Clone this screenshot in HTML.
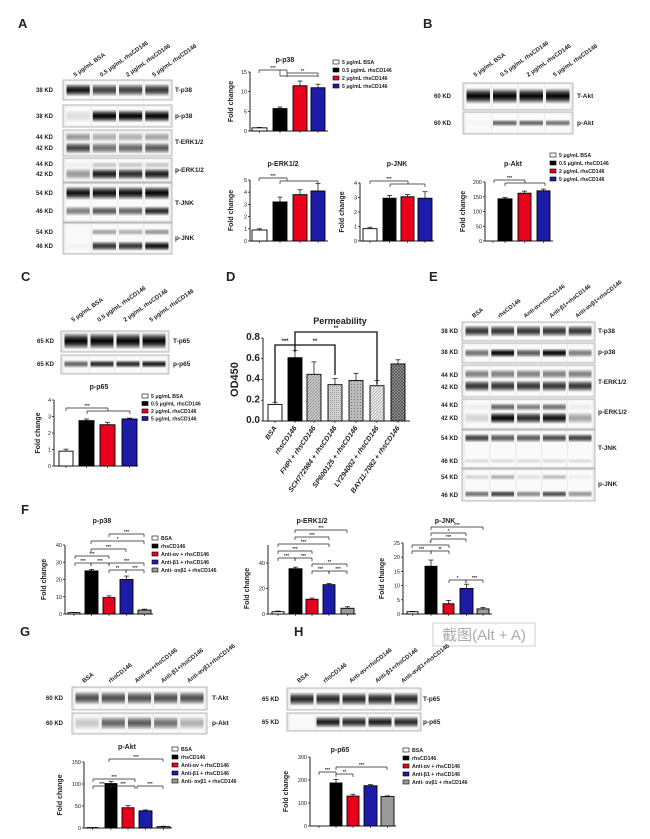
<!DOCTYPE html>
<html><head><meta charset="utf-8"><style>
html,body{margin:0;padding:0;background:#fff;width:650px;height:839px;overflow:hidden}
svg{display:block;font-family:"Liberation Sans","Noto Sans CJK SC",sans-serif}
</style></head><body>
<svg id="s" width="650" height="839" viewBox="0 0 650 839" xmlns="http://www.w3.org/2000/svg"></svg>
<script>
const S=document.getElementById('s');
let h=`<defs><linearGradient id="bg" x1="0" y1="0" x2="0" y2="1">
<stop offset="0" stop-color="#000" stop-opacity="0"/><stop offset="0.3" stop-color="#000" stop-opacity="0.75"/>
<stop offset="0.5" stop-color="#000" stop-opacity="1"/><stop offset="0.7" stop-color="#000" stop-opacity="0.75"/>
<stop offset="1" stop-color="#000" stop-opacity="0"/></linearGradient>
<pattern id="p1" width="3" height="3" patternUnits="userSpaceOnUse"><rect width="3" height="3" fill="#ccc"/><path d="M0 3L3 0" stroke="#777" stroke-width="0.6"/></pattern>
<pattern id="p2" width="2" height="2" patternUnits="userSpaceOnUse"><rect width="2" height="2" fill="#d4d4d4"/><rect width="1" height="1" fill="#999"/></pattern>
<pattern id="p3" width="3" height="3" patternUnits="userSpaceOnUse"><rect width="3" height="3" fill="#bbb"/><rect width="1" height="1" fill="#777"/></pattern>
<pattern id="p4" width="3" height="3" patternUnits="userSpaceOnUse"><rect width="3" height="3" fill="#eee"/><path d="M0 3L3 0" stroke="#888" stroke-width="0.6"/></pattern>
<pattern id="p5" width="3" height="3" patternUnits="userSpaceOnUse"><rect width="3" height="3" fill="#999"/><path d="M0 3L3 0M0 0L3 3" stroke="#444" stroke-width="0.6"/></pattern>
</defs>`;
function T(x,y,s,o={}){h+=`<text x="${x}" y="${y}" font-size="${o.fs||6}" font-weight="${o.fw||'bold'}" font-style="${o.it?'italic':'normal'}" text-anchor="${o.a||'start'}" fill="${o.c||'#222'}"${o.r!=null?` transform="rotate(${o.r} ${x} ${y})"`:''}>${s}</text>`;}
function L(x1,y1,x2,y2,w=0.8,c='#222'){h+=`<line x1="${x1}" y1="${y1}" x2="${x2}" y2="${y2}" stroke="${c}" stroke-width="${w}"/>`;}
function R(x,y,w,hh,f,st='none',sw=0.8,op=1){h+=`<rect x="${x}" y="${y}" width="${w}" height="${hh}" fill="${f}" stroke="${st}" stroke-width="${sw}" opacity="${op}"/>`;}
function blot(x0,x1,n,rows){
  const lw=(x1-x0-4)/n;
  rows.forEach(r=>{
    R(x0,r.y0,x1-x0,r.y1-r.y0,'#ececec','#aaa',0.8);
    for(let i=0;i<n;i++){R(x0+2+i*lw+0.7,r.y0+1.5,lw-1.4,r.y1-r.y0-3,'#fafafa');}
    r.b.forEach(b=>{for(let i=0;i<n;i++){const v=b.v[i]!==undefined?b.v[i]:b.v[0];if(v>0)R(x0+2+i*lw+1.5,b.y-b.h/2,lw-3,b.h,'url(#bg)','none',0,v);}});
  });
}
function heads(xs,y,labels,r=-35,fs=6){labels.forEach((l,i)=>T(xs[i]-3,y,l,{r,fs}));}
function lanes(x0,x1,n){const lw=(x1-x0-4)/n;return Array.from({length:n},(_,i)=>x0+2+lw*(i+0.5));}
function chart(c){
  const sc=(c.y0-c.yt)/c.max;
  L(c.x,c.y0,c.xe,c.y0,1);L(c.x,c.top||c.yt,c.x,c.y0,1);
  c.ticks.forEach(t=>{const y=c.y0-t*sc;L(c.x-2,y,c.x,y,0.8);T(c.x-3,y+2,c.tl?c.tl(t):t,{a:'end',fs:c.tfs||5.5,fw:c.tfw||'normal'});});
  c.bars.forEach(b=>{const[x,w,v,e,f]=b;const y=c.y0-v*sc;const m=x+w/2;
    if(e>0){L(m,y,m,y-e*sc,0.8);L(m-2.5,y-e*sc,m+2.5,y-e*sc,0.8);}
    R(x,y,w,v*sc,f,'#000',0.9);L(m,c.y0,m,c.y0+2,0.7);});
  if(c.title)T(c.tx,c.ty,c.title,{a:'middle',fs:c.titfs||7});
  if(c.yl!==false)T(c.x-(c.yld||18),(c.y0+c.yt)/2,c.ylab||'Fold change',{a:'middle',r:-90,fs:c.ylfs||7});
}
function br(x1,x2,y,lab,d=3){L(x1,y,x2,y,0.7);L(x1,y,x1,y+d,0.7);L(x2,y,x2,y+d,0.7);T((x1+x2)/2,y-1,lab,{a:'middle',fs:4.5});}
function legend(x,y,items,dy=8){items.forEach((it,i)=>{R(x,y+i*dy-4,6,4,it[1],'#000',0.6);T(x+9,y+i*dy,it[0],{fs:5.2});});}
const W='#fff',K='#000',Rd='#e8001c',B='#1c1ca8',G='#9a9a9a';

[['A',18,28],['B',423,28],['C',21,281],['D',226,281],['E',429,281],['F',21,514],['G',20,636],['H',294,636]].forEach(p=>T(p[1],p[2],p[0],{fs:13}));

const doseL=['5 μg/mL BSA','0.5 μg/mL rhsCD146','2 μg/mL rhsCD146','5 μg/mL rhsCD146'];
blot(63,172,4,[
 {y0:80,y1:100,b:[{y:90,h:13,v:[0.95,0.75,0.75,0.8]}]},
 {y0:105,y1:127,b:[{y:116,h:13,v:[0.12,1,1,1]}]},
 {y0:130,y1:156,b:[{y:137,h:10,v:[0.4,0.3,0.3,0.35]},{y:148,h:12,v:[0.75,0.55,0.6,0.65]}]},
 {y0:158,y1:182,b:[{y:165,h:7,v:[0.05,0.2,0.2,0.2]},{y:174,h:12,v:[0.4,0.9,0.85,0.9]}]},
 {y0:183,y1:222,b:[{y:193,h:14,v:[0.95,0.95,0.95,1]},{y:211,h:10,v:[0.5,0.65,0.6,0.85]}]},
 {y0:223,y1:254,b:[{y:232,h:7,v:[0,0.35,0.3,0.4]},{y:246,h:10,v:[0.03,0.8,0.8,0.95]}]}]);
heads(lanes(63,172,4),77,doseL);
[['38 KD',92],['38 KD',118],['44 KD',139],['42 KD',150],['44 KD',166],['42 KD',176],['54 KD',195],['46 KD',213],['54 KD',234],['46 KD',248]].forEach(k=>T(36,k[1],k[0],{fs:6}));
[['T-p38',92],['p-p38',118],['T-ERK1/2',144],['p-ERK1/2',172],['T-JNK',205],['p-JNK',240]].forEach(k=>T(175,k[1],k[0],{fs:6.5}));

chart({x:250,xe:328,y0:131,yt:72,max:15,ticks:[0,5,10,15],bars:[[252,15,0.8,0.1,W],[273,14,5.7,0.4,K],[293,14,11.5,1.2,Rd],[311,14,11,0.9,B]],title:'p-p38',tx:285,ty:62,yld:17});
br(259,287,70,'***');L(280,70,280,76,0.7);L(280,76,318,76,0.7);br(287,318,73,'**',4);
legend(333,64,[['5 μg/mL BSA',W],['0.5 μg/mL rhsCD146',K],['2 μg/mL rhsCD146',Rd],['5 μg/mL rhsCD146',B]]);
chart({x:250,xe:328,y0:241,yt:180,max:5,ticks:[0,1,2,3,4,5],bars:[[252,15,0.9,0.1,W],[273,14,3.2,0.4,K],[293,14,3.8,0.4,Rd],[311,14,4.1,0.6,B]],title:'p-ERK1/2',tx:283,ty:166,yld:17});
br(259,287,178,'***');L(280,181,318,181,0.7);L(280,181,280,184,0.7);L(318,181,318,184,0.7);
chart({x:360,xe:434,y0:241,yt:183,max:4,ticks:[0,1,2,3,4],bars:[[363,14,0.85,0.1,W],[383,13,2.95,0.2,K],[401,13,3.05,0.15,Rd],[418,14,2.95,0.45,B]],title:'p-JNK',tx:397,ty:166,yld:16});
br(370,408,181,'***');L(390,184,425,184,0.7);L(390,184,390,187,0.7);L(425,184,425,187,0.7);

blot(463,573,4,[{y0:83,y1:110,b:[{y:96,h:16,v:[1,1,1,1]}]},{y0:112,y1:134,b:[{y:123,h:7,v:[0.02,0.6,0.6,0.55]}]}]);
heads(lanes(463,573,4),77,doseL);
T(434,98,'60 KD',{fs:6});T(434,125,'60 KD',{fs:6});T(577,98,'T-Akt',{fs:6.5});T(577,125,'p-Akt',{fs:6.5});
chart({x:485,xe:553,y0:241,yt:182,max:200,ticks:[0,50,100,150,200],bars:[[489,8,0,0,W],[498,14,143,5,K],[518,13,162,7,Rd],[537,13,170,6,B]],title:'p-Akt',tx:513,ty:166,yld:20});
br(494,525,180,'***');L(505,183,545,183,0.7);L(505,183,505,186,0.7);L(545,183,545,186,0.7);
legend(550,157,[['5 μg/mL BSA',W],['0.5 μg/mL rhsCD146',K],['2 μg/mL rhsCD146',Rd],['5 μg/mL rhsCD146',B]]);

blot(61,169,4,[{y0:331,y1:352,b:[{y:341,h:17,v:[1,1,1,1]}]},{y0:355,y1:374,b:[{y:364,h:8,v:[0.6,0.85,0.85,0.9]}]}]);
heads(lanes(61,169,4),322,doseL);
T(37,343,'65 KD',{fs:6});T(37,366,'65 KD',{fs:6});T(173,343,'T-p65',{fs:6.5});T(173,366,'p-p65',{fs:6.5});
chart({x:54,xe:138,y0:466,yt:400,max:4,ticks:[0,1,2,3,4],bars:[[59,14,0.9,0.12,W],[79,15,2.75,0.1,K],[100,15,2.5,0.15,Rd],[122,15,2.85,0.05,B]],title:'p-p65',tx:99,ty:389,yld:14});
br(66,108,408,'***');L(87,411,130,411,0.7);L(87,411,87,414,0.7);L(130,411,130,414,0.7);
legend(142,398,[['5 μg/mL BSA',W],['0.5 μg/mL rhsCD146',K],['2 μg/mL rhsCD146',Rd],['5 μg/mL rhsCD146',B]],7.5);

const dx=[268,288,307,328,349,370,391];
chart({x:263,xe:410,y0:421,yt:338,max:0.8,ticks:[0,0.2,0.4,0.6,0.8],tl:t=>t.toFixed(1),tfs:10,tfw:'bold',
 bars:[[dx[0],14,0.16,0.02,W],[dx[1],14,0.61,0.07,K],[dx[2],14,0.45,0.12,'url(#p1)'],[dx[3],14,0.35,0.06,'url(#p2)'],[dx[4],14,0.39,0.07,'url(#p3)'],[dx[5],14,0.34,0.05,'url(#p4)'],[dx[6],14,0.55,0.04,'url(#p5)']],
 title:'Permeability',tx:340,ty:324,titfs:9,ylab:'OD450',yld:25,ylfs:11});
h+=`<g stroke="#111" stroke-width="1.3" fill="none"><path d="M275 402V345H295M295 345V352M295 345H335V375M295 345V332H377V384"/></g>`;
T(285,343,'***',{a:'middle',fs:6});T(315,343,'**',{a:'middle',fs:6});T(336,330,'**',{a:'middle',fs:6});
['BSA','rhsCD146','FHPI + rhsCD146','SCH772984 + rhsCD146','SP600125 + rhsCD146','LY294002 + rhsCD146','BAY11-7082 + rhsCD146'].forEach((l,i)=>T(dx[i]+9,428,l,{a:'end',r:-55,fs:7,it:1}));

blot(462,595,5,[
 {y0:322,y1:341,b:[{y:331,h:12,v:[0.8]}]},
 {y0:343,y1:363,b:[{y:353,h:9,v:[0.55,1,0.65,1,0.5]}]},
 {y0:365,y1:397,b:[{y:374,h:10,v:[0.5]},{y:386,h:12,v:[0.8]}]},
 {y0:399,y1:429,b:[{y:407,h:8,v:[0.05,0.6,0.5,0.55,0.05]},{y:418,h:12,v:[0.15,1,0.85,0.95,0.35]}]},
 {y0:430,y1:468,b:[{y:438,h:9,v:[0.75,0.65,0.65,0.7,0.75]},{y:461,h:5,v:[0.12]}]},
 {y0:469,y1:501,b:[{y:477,h:6,v:[0.15,0.3,0.1,0.25,0.05]},{y:494,h:7,v:[0.55,0.75,0.45,0.7,0.4]}]}]);
const grpL=['BSA','rhsCD146','Anti-αv+rhsCD146','Anti-β1+rhsCD146','Anti-αvβ1+rhsCD146'];
heads(lanes(462,595,5),318,grpL,-38,5.8);
[['38 KD',333],['38 KD',354],['44 KD',377],['42 KD',389],['44 KD',407],['42 KD',420],['54 KD',440],['46 KD',463],['54 KD',479],['46 KD',497]].forEach(k=>T(441,k[1],k[0],{fs:6}));
[['T-p38',333],['p-p38',354],['T-ERK1/2',384],['p-ERK1/2',414],['T-JNK',450],['p-JNK',486]].forEach(k=>T(598,k[1],k[0],{fs:6.5}));

const lg5=[['BSA',W],['rhsCD146',K],['Anti-αv + rhsCD146',Rd],['Anti-β1 + rhsCD146',B],['Anti- αvβ1 + rhsCD146',G]];
chart({x:65,xe:153,y0:614,yt:545,max:40,ticks:[0,10,20,30,40],bars:[[68,12,0.8,0.1,W],[85,13,25,0.8,K],[103,12,9.5,1,Rd],[120,13,20,2,B],[138,13,2.3,0.5,G]],title:'p-p38',tx:102,ty:523,yld:19});
br(75,91,563,'***');br(91,109,563,'***');br(75,109,556,'***');br(91,126,549,'***');br(91,144,541,'*');br(109,144,534,'***');br(109,126,570,'**');br(126,144,570,'***');br(109,144,563,'***');
legend(152,540,lg5);
chart({x:268,xe:356,y0:614,yt:563,max:40,top:545,ticks:[0,20,40],bars:[[272,12,1.8,0.5,W],[289,13,35.5,1.2,K],[306,12,11.5,1,Rd],[323,12,23,1,B],[341,13,4.5,1.2,G]],title:'p-ERK1/2',tx:312,ty:523,yld:19});
br(278,295,558,'***');br(295,312,558,'***');br(278,312,551,'***');br(278,329,544,'***');br(295,329,537,'***');br(312,329,571,'***');br(329,347,571,'***');br(312,347,564,'**');br(295,347,530,'***');
chart({x:403,xe:492,y0:614,yt:543,max:25,ticks:[0,5,10,15,20,25],bars:[[407,11,0.8,0.1,W],[425,12,16.8,2.2,K],[443,11,3.6,1.2,Rd],[460,13,9,1.5,B],[477,12,1.8,0.5,G]],title:'p-JNK',tx:445,ty:523,yld:19});
br(412,431,551,'***');br(431,449,551,'**');br(412,449,545,'*');br(431,466,539,'***');br(431,466,533,'*');br(431,483,527,'***');br(449,466,580,'*');br(466,483,580,'***');

R(433,623,102,23,'#fff','#ccc',1,0.9);T(484,640,'截图(Alt + A)',{a:'middle',fs:15,fw:'normal',c:'#aaa'});

blot(72,207,5,[{y0:687,y1:710,b:[{y:698,h:14,v:[0.7]}]},{y0:713,y1:734,b:[{y:723,h:14,v:[0.2,0.6,0.65,0.55,0.3]}]}]);
heads(lanes(72,207,5),683,grpL,-38,6);
T(46,700,'60 KD',{fs:6});T(46,725,'60 KD',{fs:6});T(212,700,'T-Akt',{fs:6.5});T(212,725,'p-Akt',{fs:6.5});
chart({x:84,xe:172,y0:828,yt:762,max:150,ticks:[0,50,100,150],bars:[[87,11,1,0,W],[105,12,101,5,K],[122,12,46,5,Rd],[139,13,39,2,B],[157,13,3,1,G]],title:'p-Akt',tx:127,ty:749,yld:22});
br(93,111,786,'***');br(93,135,779,'***');br(111,135,786,'***');br(109,163,759,'***');br(137,163,786,'***');
legend(172,751,lg5);

blot(287,421,5,[{y0:688,y1:710,b:[{y:699,h:14,v:[0.85]}]},{y0:713,y1:731,b:[{y:722,h:12,v:[0,0.9,0.85,0.9,0.85]}]}]);
heads(lanes(287,421,5),683,grpL,-38,6);
T(262,701,'65 KD',{fs:6});T(262,724,'65 KD',{fs:6});T(423,701,'T-p65',{fs:6.5});T(423,724,'p-p65',{fs:6.5});
chart({x:310,xe:396,y0:826,yt:757,max:300,ticks:[0,100,200,300],bars:[[314,10,0,0,W],[330,12,187,15,K],[347,12,130,8,Rd],[364,13,175,5,B],[381,13,128,3,G]],title:'p-p65',tx:340,ty:752,yld:22});
br(319,336,772,'***');br(336,353,774,'**');br(336,387,767,'***');
legend(403,752,lg5);

S.innerHTML=h;
</script>
</body></html>
